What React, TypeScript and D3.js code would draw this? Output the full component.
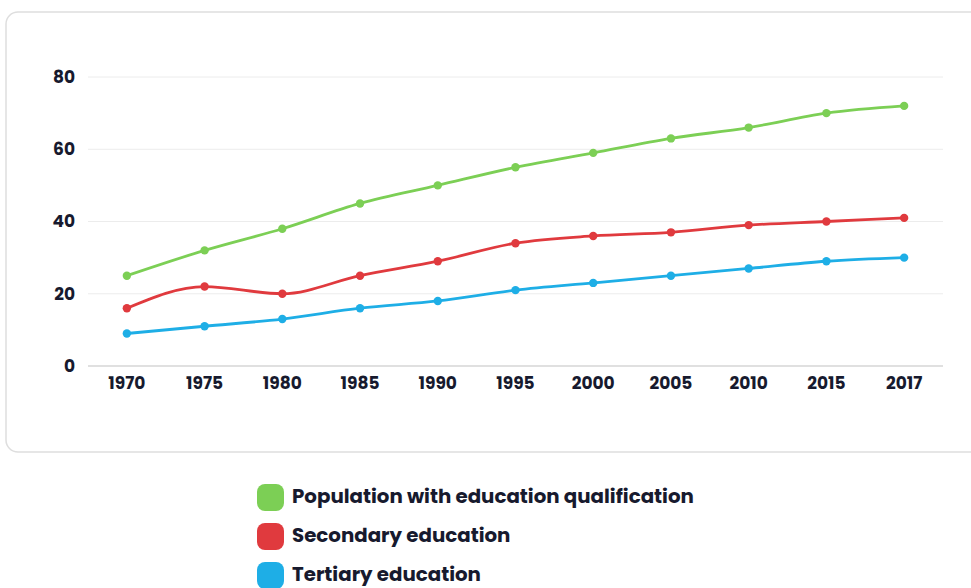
import React from "react";
import * as d3 from "d3";

const years = ["1970", "1975", "1980", "1985", "1990", "1995", "2000", "2005", "2010", "2015", "2017"];
const populationQualified = [25, 32, 38, 45, 50, 55, 59, 63, 66, 70, 72];
const secondaryEducation = [16, 22, 20, 25, 29, 34, 36, 37, 39, 40, 41];
const tertiaryEducation = [9, 11, 13, 16, 18, 21, 23, 25, 27, 29, 30];
const yTicks = [0, 20, 40, 60, 80];
const seriesNames = ["Population with education qualification", "Secondary education", "Tertiary education"];
const seriesColors = ["#7ccf55", "#e03a3e", "#1eaee6"];

export default function App() {
  const W = 971, H = 588;
  const x = d3.scalePoint<string>().domain(years).range([88, 943]).padding(0.5);
  const y = d3.scaleLinear().domain([0, 80]).range([366, 77]);
  const line = d3
    .line<number>()
    .x((_, i) => x(years[i]) as number)
    .y((d) => y(d))
    .curve(d3.curveMonotoneX);
  const allSeries = [populationQualified, secondaryEducation, tertiaryEducation];
  const font = "Poppins, 'Noto Sans', 'Open Sans', sans-serif";
  const textColor = "#171a2e";
  return (
    <svg
      width={W}
      height={H}
      style={{ position: "absolute", left: 0, top: 0, background: "#fff" }}
      fontFamily={font}
    >
      <rect x={6} y={12} width={990} height={440} rx={12} fill="#fff" stroke="#dedede" strokeWidth={1.5} />
      {yTicks.map((t) => (
        <g key={t}>
          <line x1={88} x2={943} y1={y(t)} y2={y(t)} stroke={t === 0 ? "#d6d6d6" : "#ececec"} strokeWidth={t === 0 ? 1.5 : 1} />
          <text x={75} y={y(t)} dy="0.35em" textAnchor="end" fontSize={17} fontWeight={700} fill={textColor}>
            {t}
          </text>
        </g>
      ))}
      {years.map((yr) => (
        <text key={yr} x={x(yr)} y={383} dy="0.35em" textAnchor="middle" fontSize={17} fontWeight={700} fill={textColor}>
          {yr}
        </text>
      ))}
      {allSeries.map((s, si) => (
        <g key={si}>
          <path d={line(s) || ""} fill="none" stroke={seriesColors[si]} strokeWidth={2.8} />
          {s.map((v, i) => (
            <circle key={i} cx={x(years[i])} cy={y(v)} r={4.2} fill={seriesColors[si]} />
          ))}
        </g>
      ))}
      {seriesNames.map((n, i) => (
        <g key={n} transform={`translate(257, ${484 + i * 39})`}>
          <rect x={0} y={0} width={27} height={27} rx={8} fill={seriesColors[i]} />
          <text x={35} y={12} dy="0.35em" fontSize={19.8} fontWeight={700} fill={textColor}>
            {n}
          </text>
        </g>
      ))}
    </svg>
  );
}
